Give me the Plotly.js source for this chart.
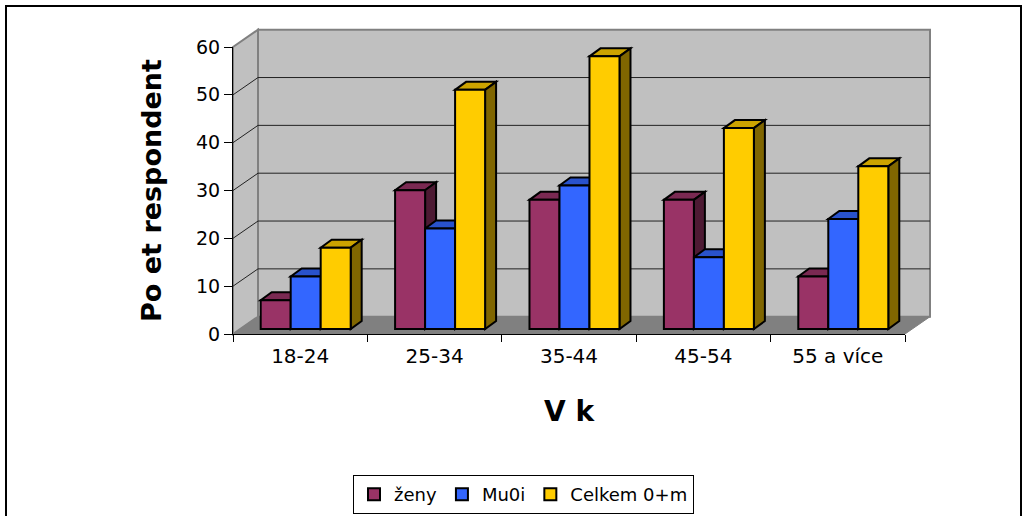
<!DOCTYPE html>
<html>
<head>
<meta charset="utf-8">
<script src="https://cdn.plot.ly/plotly-3.0.1.min.js"></script>
<style>html,body{margin:0;padding:0;background:#fff;}</style>
</head>
<body>
<div id="chart" style="width:1027px;height:516px;"></div>
<script>
// ---- data ----
const categories = ['18-24', '25-34', '35-44', '45-54', '55 a více'];
const zeny = [6, 29, 27, 27, 11];
const muzi = [11, 21, 30, 15, 23];
const celkem = [17, 50, 57, 42, 34];
const seriesNames = ['ženy', 'Mu0i', 'Celkem 0+m'];
const yTicks = [0, 10, 20, 30, 40, 50, 60];
const xTitle = 'V k';
const yTitle = 'Po et respondent';

// ---- styles / geometry (pixels) ----
const W = 1027, H = 516;
const ML = 233, MR = 122, MT = 42, MB = 182;
const PW = W - ML - MR, PH = H - MT - MB;       // plot area
const YMAX = 60;
const UNIT = 287 / YMAX;                          // px per value unit
const BAR_LIFT = 5;                               // bars stand 5px above front edge
const BACK_DX = 25, BACK_DY = -17.3;              // back wall offset
const DEPTH_DX = 11, DEPTH_DY = -8;               // bar depth
const CAT_PX = PW / categories.length;
const BAR_W = 30 / CAT_PX;
const GROUP_START = -0.294;

const fronts = ['#993366', '#3366FF', '#FFCC00'];
const tops = ['#7A2952', '#2952CC', '#CCA300'];
const sides = ['#4D1A33', '#1A3380', '#806600'];
const seriesVals = [zeny, muzi, celkem];

const px = x => (x - ML) / PW;
const py = y => (H - MB - y) / PH;
const FRONT0 = H - MB;          // 334
const BACK0 = FRONT0 + BACK_DY; // back floor edge
const fontTick = 'DejaVu Sans';

const shapes = [];
// outer frame
shapes.push({type: 'rect', xref: 'paper', yref: 'paper', layer: 'below',
  x0: px(6), x1: px(1021), y0: py(530), y1: py(6),
  line: {color: '#000', width: 2}, fillcolor: 'rgba(0,0,0,0)'});
// back wall
const bx0 = ML + BACK_DX, bx1 = ML + PW + BACK_DX;
shapes.push({type: 'rect', xref: 'paper', yref: 'paper', layer: 'below',
  x0: px(bx0), x1: px(bx1), y0: py(BACK0), y1: py(BACK0 - YMAX * UNIT),
  fillcolor: '#C0C0C0', line: {color: '#808080', width: 2}});
// left wall
shapes.push({type: 'path', xref: 'paper', yref: 'paper', layer: 'below',
  path: `M${px(ML)},${py(FRONT0)} L${px(ML)},${py(FRONT0 - YMAX * UNIT)} L${px(bx0)},${py(BACK0 - YMAX * UNIT)} L${px(bx0)},${py(BACK0)} Z`,
  fillcolor: '#C0C0C0', line: {color: '#808080', width: 2}});
// floor
shapes.push({type: 'path', xref: 'paper', yref: 'paper', layer: 'below',
  path: `M${px(ML)},${py(FRONT0)} L${px(ML + PW)},${py(FRONT0)} L${px(bx1)},${py(BACK0)} L${px(bx0)},${py(BACK0)} Z`,
  fillcolor: '#808080', line: {color: '#808080', width: 1}});
// gridlines on back wall + diagonals on left wall
yTicks.forEach(t => {
  if (t <= 0 || t >= YMAX) return;
  const yb = BACK0 - t * UNIT, yf = FRONT0 - t * UNIT;
  shapes.push({type: 'line', xref: 'paper', yref: 'paper', layer: 'below',
    x0: px(bx0), x1: px(bx1), y0: py(yb), y1: py(yb), line: {color: '#222', width: 1}});
  shapes.push({type: 'line', xref: 'paper', yref: 'paper', layer: 'below',
    x0: px(ML), x1: px(bx0), y0: py(yf), y1: py(yb), line: {color: '#222', width: 1}});
});

// 3D faces of bars (top + side), from the same data arrays
const dxD = DEPTH_DX / CAT_PX, dyD = -DEPTH_DY / UNIT;
seriesVals.forEach((vals, k) => {
  vals.forEach((v, i) => {
    const xl = i + GROUP_START + k * BAR_W, xr = xl + BAR_W;
    shapes.push({type: 'path', xref: 'x', yref: 'y3', layer: 'below',
      path: `M${xl},${v} L${xr},${v} L${xr + dxD},${v + dyD} L${xl + dxD},${v + dyD} Z`,
      fillcolor: tops[k], line: {color: '#000', width: 2}});
    shapes.push({type: 'path', xref: 'x', yref: 'y3', layer: 'below',
      path: `M${xr},0 L${xr},${v} L${xr + dxD},${v + dyD} L${xr + dxD},${dyD} Z`,
      fillcolor: sides[k], line: {color: '#000', width: 2}});
  });
});

// invisible carrier so the front value axis (x/y subplot) is drawn
const axisCarrier = {
  type: 'scatter', mode: 'none', x: categories, y: celkem,
  xaxis: 'x', yaxis: 'y', showlegend: false, hoverinfo: 'skip'
};

const traces = [axisCarrier].concat(seriesVals.map((vals, k) => ({
  type: 'bar', name: seriesNames[k], x: categories, y: vals,
  xaxis: 'x', yaxis: 'y3', width: BAR_W, offset: GROUP_START + k * BAR_W,
  marker: {color: fronts[k], line: {color: '#000', width: 2}},
  hoverinfo: 'x+y+name'
})));

const layout = {
  width: W, height: H,
  margin: {l: ML, r: MR, t: MT, b: MB, autoexpand: false},
  paper_bgcolor: '#fff', plot_bgcolor: 'rgba(0,0,0,0)',
  barmode: 'overlay',
  showlegend: true,
  xaxis: {
    type: 'category', categoryorder: 'array', categoryarray: categories,
    range: [-0.5, categories.length - 0.5], domain: [0, 1], anchor: 'y',
    showline: true, linecolor: '#000', linewidth: 1,
    ticks: 'outside', tickson: 'boundaries', ticklen: 7, tickcolor: '#000',
    showgrid: false, zeroline: false, ticklabelstandoff: 4,
    tickfont: {family: fontTick, size: 20, color: '#000'},
    title: {text: xTitle, standoff: 34,
      font: {family: 'DejaVu Sans', size: 28, weight: 'bold', color: '#000'}}
  },
  yaxis: {
    domain: [0, 287 / PH], anchor: 'x', range: [0, YMAX], tickvals: yTicks,
    showline: true, linecolor: '#000', linewidth: 1,
    ticks: 'outside', ticklen: 8, tickcolor: '#000',
    showgrid: false, zeroline: false,
    tickfont: {family: fontTick, size: 19, color: '#000'},
    title: {text: yTitle, standoff: 26,
      font: {family: 'DejaVu Sans', size: 27, weight: 'bold', color: '#000'}}
  },
  yaxis3: {
    domain: [0, 1], anchor: 'x', range: [-BAR_LIFT / UNIT, YMAX],
    visible: false, showgrid: false, zeroline: false
  },
  legend: {
    orientation: 'h', xref: 'container', yref: 'container',
    x: 353 / W, y: (H - 475) / H, xanchor: 'left', yanchor: 'top',
    bordercolor: '#000', borderwidth: 1, bgcolor: '#fff',
    font: {family: fontTick, size: 18, color: '#000'}
  },
  shapes: shapes
};

Plotly.newPlot('chart', traces, layout, {displayModeBar: false, staticPlot: true});
</script>
</body>
</html>
